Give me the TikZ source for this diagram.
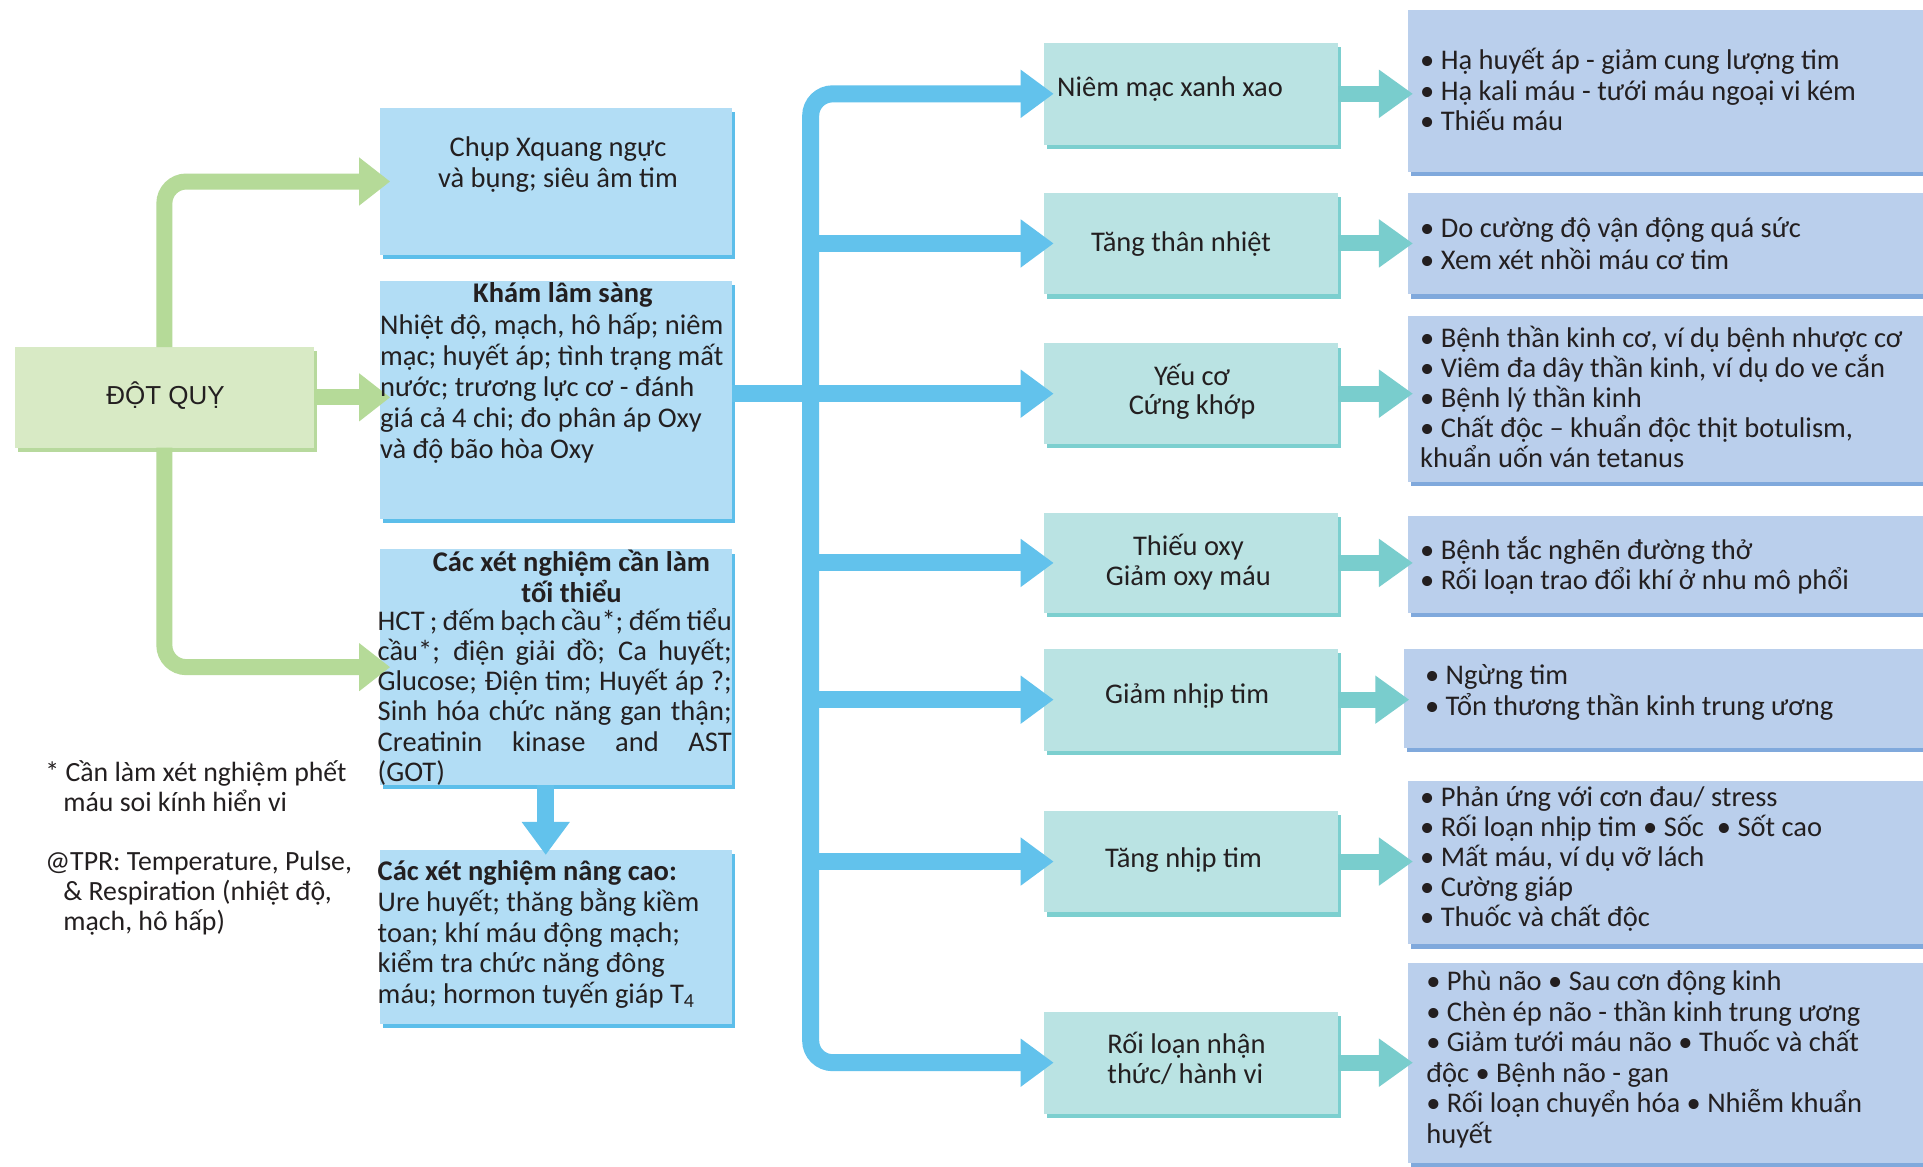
\documentclass[tikz,border=0pt]{standalone}
\usepackage{fontspec}
\setmainfont{Carlito}
\newfontfamily\headfont{Liberation Sans}
\usetikzlibrary{arrows.meta,fit,calc}

\definecolor{ink}{HTML}{231F20}
\definecolor{greenfill}{HTML}{D8EAC5}
\definecolor{greenshade}{HTML}{B7D99D}
\definecolor{greenlink}{HTML}{B5DA98}
\definecolor{skyfill}{HTML}{B2DDF5}
\definecolor{skyshade}{HTML}{5CBEEA}
\definecolor{skylink}{HTML}{62C2EC}
\definecolor{tealfill}{HTML}{BAE3E3}
\definecolor{tealshade}{HTML}{7CCFCF}
\definecolor{teallink}{HTML}{79CDCD}
\definecolor{lilacfill}{HTML}{BACFEC}
\definecolor{lilacshade}{HTML}{80A9DC}

% box with a darker offset strip below and to the right
\newcommand\panel[6]{%
  \fill[#6shade] (#2+2.5,#3+3.5) rectangle (#4+2.5,#5+3.5);
  \node[fit={(#2,#3)(#4,#5)}, inner sep=0pt, outer sep=0pt, fill=#6fill] (#1) {};}
% text blocks: first baseline at the given point
\newcommand\lefttext[6]{\node[txt,anchor=base west,#1] (#2) at (#3,#4) {\parbox[t]{#5pt}{\raggedright #6}};}
\newcommand\centtext[6]{\node[txt,anchor=base,#1] (#2) at (#3,#4) {\parbox[t]{#5pt}{\centering #6}};}
\newcommand\jline[1]{\makebox[\linewidth][s]{#1}}
\newcommand\hang{\hspace*{18pt}}

\begin{document}
\begin{tikzpicture}[x=1.2264pt,y=-1.2264pt,
  txt/.style={inner sep=0pt, outer sep=0pt, text=ink, font=\fontsize{28.5}{30.5}\selectfont},
  glink/.style={draw=greenlink, line width=16pt, rounded corners=22pt,
    -{Triangle[length=31pt,width=46pt]}},
  blink/.style={draw=skylink, line width=17pt, rounded corners=22pt,
    -{Triangle[length=33pt,width=46pt]}},
  tlink/.style={draw=teallink, line width=16pt,
    -{Triangle[length=34pt,width=46pt]}}]

\fill[white] (0,0) rectangle (1568,951);
\useasboundingbox (0,0) rectangle (1568,951);

% ---- boxes ----
\panel{dq}{12}{283}{256}{365}{green}
\panel{xq}{310}{88}{597}{208}{sky}
\panel{kham}{310}{229}{597}{423}{sky}
\panel{min}{310}{448}{597}{640}{sky}
\panel{adv}{310}{693}{597}{835}{sky}

\panel{niem}{851}{35}{1091}{118}{teal}
\panel{tang}{851}{157}{1091}{240}{teal}
\panel{yeu}{851}{280}{1091}{362}{teal}
\panel{thieu}{851}{418}{1091}{500}{teal}
\panel{giam}{851}{529}{1091}{612}{teal}
\panel{tnhip}{851}{661}{1091}{744}{teal}
\panel{roi}{851}{825}{1091}{908}{teal}

\panel{r1}{1148}{8}{1575}{140}{lilac}
\panel{r2}{1148}{157}{1575}{240}{lilac}
\panel{r3}{1148}{258}{1575}{393}{lilac}
\panel{r4}{1148}{421}{1575}{500}{lilac}
\panel{r5}{1145}{529}{1575}{610}{lilac}
\panel{r6}{1148}{637}{1575}{770}{lilac}
\panel{r7}{1148}{785}{1575}{948}{lilac}

% ---- connectors ----
\draw[glink] (dq.north) |- ($(xq.west)+(10pt,0)$);
\draw[glink] (dq.south) |- ($(min.west)+(10pt,0)$);
\draw[glink] (dq.east) -- ($(kham.west |- dq.east)+(10pt,0)$);

\coordinate (tk) at (661,0 |- yeu.west);
\draw[blink] (kham.east |- yeu.west) -- ($(yeu.west)+(10pt,0)$);
\draw[blink] (tk) |- ($(niem.west)+(10pt,0)$);
\draw[blink] (tk) |- ($(roi.west)+(10pt,0)$);
\foreach \n in {tang,thieu,giam,tnhip}
  \draw[blink] (tk |- \n.west) -- ($(\n.west)+(10pt,0)$);

\coordinate (advtop) at ($(adv.north)+(0,-5pt)$);
\draw[blink] (min.south -| 445,0) -- (advtop -| 445,0);

\foreach \a/\b in {niem/r1,tang/r2,yeu/r3,thieu/r4,giam/r5,tnhip/r6,roi/r7}
  \draw[tlink] (\a.east) -- ($(\b.west |- \a.east)+(5pt,0)$);

% ---- texts ----
\centtext{font=\headfont\fontsize{26}{30}\selectfont}{tdq}{135}{330}{200}{ĐỘT QUỴ}

\centtext{}{txq}{455}{128}{340}{Chụp Xquang ngực\\và bụng; siêu âm tim}

\centtext{}{tkhamh}{459}{247}{340}{\bfseries Khám lâm sàng}
\lefttext{font=\fontsize{28.5}{31}\selectfont}{tkham}{310}{273}{360}{%
Nhiệt độ, mạch, hô hấp; niêm\\
mạc; huyết áp; tình trạng mất\\
nước; trương lực cơ - đánh\\
giá cả 4 chi; đo phân áp Oxy\\
và độ bão hòa Oxy}

\centtext{}{tminh}{466}{466}{360}{\bfseries Các xét nghiệm cần làm\\tối thiểu}
\lefttext{font=\fontsize{28.5}{30.2}\selectfont}{tmin}{308}{514}{354}{%
\jline{HCT ; đếm bạch cầu*; đếm tiểu}\\
\jline{cầu*; điện giải đồ; Ca huyết;}\\
\jline{Glucose; Điện tim; Huyết áp ?;}\\
\jline{Sinh hóa chức năng gan thận;}\\
\jline{Creatinin kinase and AST}\\
(GOT)}

\lefttext{}{tadvh}{308}{718}{360}{\bfseries Các xét nghiệm nâng cao:}
\lefttext{font=\fontsize{28.5}{30.8}\selectfont}{tadv}{308}{743}{360}{%
Ure huyết; thăng bằng kiềm\\
toan; khí máu động mạch;\\
kiểm tra chức năng đông\\
máu; hormon tuyến giáp T\textsubscript{4}}

\lefttext{font=\fontsize{27.8}{30.5}\selectfont}{tnote}{37}{637}{340}{%
* Cần làm xét nghiệm phết\\\hang máu soi kính hiển vi}
\lefttext{font=\fontsize{27.8}{29.8}\selectfont}{ttpr}{37}{710}{340}{%
@TPR: Temperature, Pulse,\\\hang\& Respiration (nhiệt độ,\\\hang mạch, hô hấp)}

\lefttext{}{tniem}{862}{79}{240}{Niêm mạc xanh xao}
\centtext{}{ttang}{963}{205}{240}{Tăng thân nhiệt}
\centtext{font=\fontsize{28.5}{29.5}\selectfont}{tyeu}{972}{314}{240}{Yếu cơ\\Cứng khớp}
\centtext{font=\fontsize{28.5}{29.5}\selectfont}{tthieu}{969}{453}{240}{Thiếu oxy\\Giảm oxy máu}
\centtext{}{tgiam}{968}{574}{240}{Giảm nhịp tim}
\centtext{}{ttnhip}{965}{707}{240}{Tăng nhịp tim}
\lefttext{font=\fontsize{28.5}{30.5}\selectfont}{troi}{903}{859}{240}{Rối loạn nhận\\thức/ hành vi}

\lefttext{}{tr1}{1158}{57}{520}{%
• Hạ huyết áp - giảm cung lượng tim\\
• Hạ kali máu - tưới máu ngoại vi kém\\
• Thiếu máu}
\lefttext{font=\fontsize{28.5}{31.5}\selectfont}{tr2}{1158}{194}{520}{%
• Do cường độ vận động quá sức\\
• Xem xét nhồi máu cơ tim}
\lefttext{font=\fontsize{28.5}{30}\selectfont}{tr3}{1158}{283}{520}{%
• Bệnh thần kinh cơ, ví dụ bệnh nhược cơ\\
• Viêm đa dây thần kinh, ví dụ do ve cắn\\
• Bệnh lý thần kinh\\
• Chất độc – khuẩn độc thịt botulism,\\
khuẩn uốn ván tetanus}
\lefttext{font=\fontsize{28.5}{30}\selectfont}{tr4}{1158}{456}{520}{%
• Bệnh tắc nghẽn đường thở\\
• Rối loạn trao đổi khí ở nhu mô phổi}
\lefttext{font=\fontsize{28.5}{31.5}\selectfont}{tr5}{1162}{558}{520}{%
• Ngừng tim\\
• Tổn thương thần kinh trung ương}
\lefttext{font=\fontsize{28.5}{30}\selectfont}{tr6}{1158}{658}{520}{%
• Phản ứng với cơn đau/ stress\\
• Rối loạn nhịp tim • Sốc\ \ • Sốt cao\\
• Mất máu, ví dụ vỡ lách\\
• Cường giáp\\
• Thuốc và chất độc}
\lefttext{font=\fontsize{28.5}{30.5}\selectfont}{tr7}{1163}{808}{520}{%
• Phù não • Sau cơn động kinh\\
• Chèn ép não - thần kinh trung ương\\
• Giảm tưới máu não • Thuốc và chất\\
độc • Bệnh não - gan\\
• Rối loạn chuyển hóa • Nhiễm khuẩn\\
huyết}
\end{tikzpicture}
\end{document}
